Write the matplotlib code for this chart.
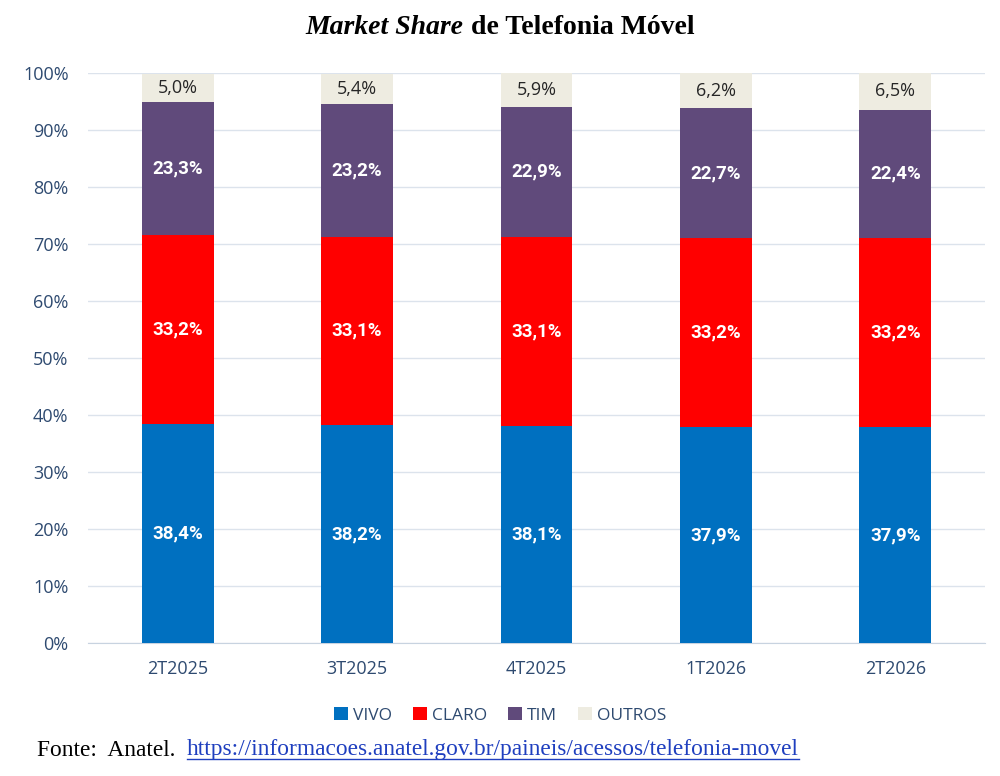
import matplotlib
matplotlib.use("Agg")
import matplotlib.pyplot as plt
import numpy as np

categories = ["2T2025", "3T2025", "4T2025", "1T2026", "2T2026"]
series_names = ["VIVO", "CLARO", "TIM", "OUTROS"]
vivo = [38.4, 38.2, 38.1, 37.9, 37.9]
claro = [33.2, 33.1, 33.1, 33.2, 33.2]
tim = [23.3, 23.2, 22.9, 22.7, 22.4]
outros = [5.0, 5.4, 5.9, 6.2, 6.5]
yticks = [0, 10, 20, 30, 40, 50, 60, 70, 80, 90, 100]

colors = ["#0070C0", "#FF0000", "#604A7B", "#EEECE1"]
label_colors = ["white", "white", "white", "#262626"]
tick_color = "#2E4A70"

fig = plt.figure(figsize=(10, 7.76), dpi=100)
ax = fig.add_axes([0.088, 0.1714, 0.897, 0.7346])

x = np.arange(len(categories))
bottom = np.zeros(len(categories))
handles = []
for name, vals, col, lc in zip(series_names, [vivo, claro, tim, outros], colors, label_colors):
    vals = np.array(vals)
    b = ax.bar(x, vals, 0.4, bottom=bottom, color=col, label=name, zorder=3)
    handles.append(b)
    for xi, v, bt in zip(x, vals, bottom):
        ax.text(xi, bt + v / 2, f"{v:.1f}%".replace(".", ","), ha="center", va="center",
                color=lc, fontsize=13.5 if lc == "white" else 13,
                fontweight="bold" if lc == "white" else "normal",
                family="Roboto" if lc == "white" else "Open Sans", zorder=4)
    bottom = bottom + vals

ax.set_xlim(-0.5, 4.5)
ax.set_ylim(0, 100)
ax.set_yticks(yticks)
ax.set_yticklabels([f"{t}%" for t in yticks])
ax.set_xticks(x)
ax.set_xticklabels(categories)
for lab in ax.get_xticklabels() + ax.get_yticklabels():
    lab.set_family("Open Sans")
    lab.set_fontsize(13)
    lab.set_color(tick_color)
ax.tick_params(axis="both", length=0)
ax.tick_params(axis="y", pad=14)
ax.tick_params(axis="x", pad=12)
ax.grid(axis="y", color="#DCE3EC", linewidth=1, zorder=0)
for s in ["top", "right", "left"]:
    ax.spines[s].set_visible(False)
ax.spines["bottom"].set_color("#C8D3E0")

leg = fig.legend(handles=handles, labels=series_names, loc="center", bbox_to_anchor=(0.5, 0.078),
                 ncol=4, frameon=False, handlelength=0.8, handleheight=0.8, handletextpad=0.3,
                 columnspacing=1.2, prop={"family": "Open Sans", "size": 12.5})
for t in leg.get_texts():
    t.set_color(tick_color)

# Title with italic part
fig.canvas.draw()
renderer = fig.canvas.get_renderer()
t1 = fig.text(0, 0, "Market Share", fontsize=20, fontstyle="italic", fontweight="bold",
              family="Liberation Serif", ha="left", va="center")
t2 = fig.text(0, 0, " de Telefonia Móvel", fontsize=20, fontweight="bold",
              family="Liberation Serif", ha="left", va="center")
w1 = t1.get_window_extent(renderer).width
w2 = t2.get_window_extent(renderer).width
W = fig.bbox.width
start = (W - (w1 + w2)) / 2
ty = 1 - 28 / 776
t1.set_position((start / W, ty))
t2.set_position(((start + w1) / W, ty))

# Footer
fy = 1 - 750 / 776
f1 = fig.text(37 / W, fy, "Fonte:  Anatel.  ", fontsize=16.8, family="Liberation Serif",
              ha="left", va="center")
wf = f1.get_window_extent(renderer).width
f2 = fig.text((37 + wf) / W, fy, "https://informacoes.anatel.gov.br/paineis/acessos/telefonia-movel",
              fontsize=16.8, family="Liberation Serif", ha="left", va="center", color="#1F3FBF")
bb = f2.get_window_extent(renderer)
fig.add_artist(plt.Line2D([bb.x0 / W, bb.x1 / W], [(bb.y0 + 2) / fig.bbox.height] * 2,
                          color="#1F3FBF", linewidth=1))

fig.savefig("out.png", dpi=100)
